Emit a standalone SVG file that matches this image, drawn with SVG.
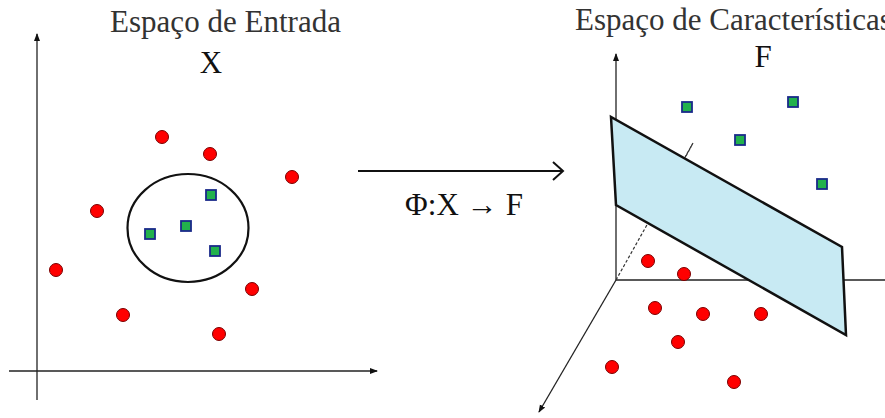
<svg xmlns="http://www.w3.org/2000/svg" width="885" height="418" viewBox="0 0 885 418">
<style>
.t{font-family:"Liberation Serif","Times New Roman",serif;font-size:31px;fill:#333}
.s{font-family:"Liberation Serif","Times New Roman",serif;font-size:31px;fill:#111}
.ax{stroke:#222;stroke-width:1.3;fill:none}
.red{fill:#ff0000;stroke:#7a0000;stroke-width:1}
.sq{fill:#22b14c;stroke:#1a2a8a;stroke-width:1.8}
</style>
<defs>
<marker id="ah" markerWidth="8" markerHeight="8" refX="7" refY="4" orient="auto" markerUnits="userSpaceOnUse"><path d="M0,1 L8,4 L0,7 Z" fill="#111"/></marker>
</defs>
<rect width="885" height="418" fill="#fff"/>
<text class="t" x="110" y="32" textLength="231">Espaço de Entrada</text>
<text class="s" x="211" y="73" text-anchor="middle">X</text>
<text class="t" x="575" y="30">Espaço de Características</text>
<text class="s" x="763" y="67" text-anchor="middle">F</text>
<text class="s" x="405" y="215" textLength="118">Φ:X → F</text>
<g id="connectors">
<line class="ax" x1="37" y1="400" x2="37" y2="34" marker-end="url(#ah)"/>
<line class="ax" x1="9" y1="371" x2="377" y2="371" marker-end="url(#ah)"/>
<line x1="358" y1="171" x2="562" y2="171" stroke="#111" stroke-width="2"/>
<path d="M553,162 L563,171 L553,180" fill="none" stroke="#111" stroke-width="2"/>
<line class="ax" x1="616" y1="280" x2="616" y2="54" marker-end="url(#ah)"/>
<line class="ax" x1="616" y1="280" x2="885" y2="280"/>
<line class="ax" x1="616" y1="280" x2="539" y2="412" marker-end="url(#ah)"/>
<line x1="616" y1="280" x2="693" y2="143" stroke="#333" stroke-width="1.2" stroke-dasharray="3,2"/>
</g>
<g id="plane"><polygon points="611,117 616,205 846,335 842,247" fill="#c8eaf3" stroke="#111" stroke-width="2.5" stroke-linejoin="miter"/></g>
<g id="dash-top"><line x1="686" y1="156" x2="693" y2="143" stroke="#333" stroke-width="1.2" stroke-dasharray="3,2"/></g>
<g id="circle"><ellipse cx="188" cy="228" rx="60.5" ry="54" fill="none" stroke="#111" stroke-width="2.2"/></g>
<g id="input-red">
<circle class="red" cx="162" cy="137" r="6.5"/>
<circle class="red" cx="210" cy="154" r="6.5"/>
<circle class="red" cx="292" cy="177" r="6.5"/>
<circle class="red" cx="97" cy="211" r="6.5"/>
<circle class="red" cx="56" cy="270" r="6.5"/>
<circle class="red" cx="252" cy="289" r="6.5"/>
<circle class="red" cx="123" cy="315" r="6.5"/>
<circle class="red" cx="219" cy="334" r="6.5"/>
</g>
<g id="input-green">
<rect class="sq" x="206" y="190" width="10" height="10"/>
<rect class="sq" x="181" y="221" width="10" height="10"/>
<rect class="sq" x="145" y="229" width="10" height="10"/>
<rect class="sq" x="210" y="246" width="10" height="10"/>
</g>
<g id="feature-green">
<rect class="sq" x="682" y="102" width="10" height="10"/>
<rect class="sq" x="788" y="97" width="10" height="10"/>
<rect class="sq" x="735" y="135" width="10" height="10"/>
<rect class="sq" x="817" y="179" width="10" height="10"/>
</g>
<g id="feature-red">
<circle class="red" cx="648" cy="261" r="6.5"/>
<circle class="red" cx="684" cy="274" r="6.5"/>
<circle class="red" cx="655" cy="308" r="6.5"/>
<circle class="red" cx="703" cy="314" r="6.5"/>
<circle class="red" cx="761" cy="314" r="6.5"/>
<circle class="red" cx="678" cy="342" r="6.5"/>
<circle class="red" cx="612" cy="367" r="6.5"/>
<circle class="red" cx="734" cy="382" r="6.5"/>
</g>
</svg>
